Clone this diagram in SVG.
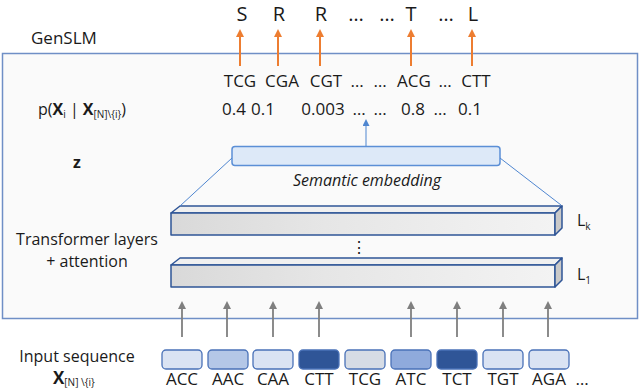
<svg xmlns="http://www.w3.org/2000/svg" width="640" height="390" viewBox="0 0 640 390">
<style>
text{font-family:"Open Sans","Noto Sans","Liberation Sans",sans-serif;fill:#1a1a1a}
.t16{font-size:16px}
.t17{font-size:17px}
.big{font-size:20px}
.sub{font-size:10px}
.b{font-weight:bold}
.mid{text-anchor:middle}
.lay{stroke:#2f5597;stroke-width:1.5;stroke-linejoin:round}
.tok{stroke:#4a72b8;stroke-width:1.3}
.orange{stroke:#ed7d31;stroke-width:2;fill:none}
.gray{stroke:#7f7f7f;stroke-width:1.8;fill:none}
.blue{stroke:#4f86d0;stroke-width:1;fill:none}
</style>
<defs>
<linearGradient id="front" x1="0" y1="0" x2="1" y2="0">
<stop offset="0" stop-color="#d9d9d9"/>
<stop offset="0.4" stop-color="#e6e6e6"/>
<stop offset="1" stop-color="#f3f3f3"/>
</linearGradient>
<marker id="ao" markerWidth="8" markerHeight="8" refX="6" refY="4" orient="auto" markerUnits="userSpaceOnUse">
<path d="M0,0 L8,4 L0,8 z" fill="#ed7d31"/>
</marker>
<marker id="ag" markerWidth="8" markerHeight="8" refX="6" refY="4" orient="auto" markerUnits="userSpaceOnUse">
<path d="M0,0 L8,4 L0,8 z" fill="#7f7f7f"/>
</marker>
<marker id="ab" markerWidth="7" markerHeight="7" refX="5" refY="3.5" orient="auto" markerUnits="userSpaceOnUse">
<path d="M0,0 L7,3.5 L0,7 z" fill="#4f86d0"/>
</marker>
</defs>

<g id="genslm-box">
<rect x="2.5" y="53.5" width="635" height="265" fill="#fafafa" stroke="#6f8fc6" stroke-width="1.5"/>
<text x="31" y="44" class="t17">GenSLM</text>
</g>

<g id="outputs">
<text x="242" y="21" class="big mid">S</text>
<text x="279" y="21" class="big mid">R</text>
<text x="321" y="21" class="big mid">R</text>
<text x="356" y="21" class="big mid">…</text>
<text x="387" y="21" class="big mid">…</text>
<text x="411" y="21" class="big mid">T</text>
<text x="446" y="21" class="big mid">…</text>
<text x="473" y="21" class="big mid">L</text>
</g>

<g id="codons">
<text x="240" y="87" class="t17 mid">TCG</text>
<text x="282" y="87" class="t17 mid">CGA</text>
<text x="326" y="87" class="t17 mid">CGT</text>
<text x="357" y="87" class="t17 mid">…</text>
<text x="380" y="87" class="t17 mid">…</text>
<text x="414" y="87" class="t17 mid">ACG</text>
<text x="445" y="87" class="t17 mid">…</text>
<text x="476" y="87" class="t17 mid">CTT</text>
</g>

<g id="probs">
<text x="234" y="115" class="t17 mid">0.4</text>
<text x="263" y="115" class="t17 mid">0.1</text>
<text x="323" y="115" class="t17 mid">0.003</text>
<text x="359" y="115" class="t17 mid">…</text>
<text x="380" y="115" class="t17 mid">…</text>
<text x="413" y="115" class="t17 mid">0.8</text>
<text x="440" y="115" class="t17 mid">…</text>
<text x="470" y="115" class="t17 mid">0.1</text>
</g>

<g id="formula">
<text x="38" y="115" class="t16">p(<tspan class="b">X</tspan><tspan class="sub" dy="3">i</tspan><tspan dy="-3"> | </tspan><tspan class="b">X</tspan><tspan class="sub" dy="3">[N]\{i}</tspan><tspan dy="-3">)</tspan></text>
</g>

<g id="z-label">
<text x="77" y="168" class="t16 b mid">z</text>
</g>

<g id="semantic-embedding">
<rect x="232" y="146.5" width="268" height="19" rx="3" fill="#dde9f8" stroke="#5b8fd6" stroke-width="1.5"/>
<text x="367" y="186" class="t16 mid" font-style="italic">Semantic embedding</text>
</g>

<g id="layer-k">
<polygon class="lay" points="171,213 180,206 562,206 555,213" fill="#f0f0f0"/>
<rect class="lay" x="171" y="213" width="384" height="22" fill="url(#front)"/>
<polygon class="lay" points="555,213 562,206 562,228 555,235" fill="#c9c9c9"/>
<text x="577" y="226" class="t16">L<tspan class="sub" dy="4">k</tspan></text>
</g>

<g id="layer-1">
<polygon class="lay" points="171,265 180,258 562,258 555,265" fill="#f0f0f0"/>
<rect class="lay" x="171" y="265" width="384" height="22" fill="url(#front)"/>
<polygon class="lay" points="555,265 562,258 562,280 555,287" fill="#c9c9c9"/>
<text x="577" y="280" class="t16">L<tspan class="sub" dy="4">1</tspan></text>
</g>

<g id="transformer-label">
<text x="87" y="245" class="t16 mid">Transformer layers</text>
<text x="87" y="267" class="t16 mid">+ attention</text>
<text x="359" y="253" class="t16 mid">⋮</text>
</g>

<g id="input-label">
<text x="77" y="362" class="t16 mid">Input sequence</text>
<text x="53" y="384" class="t17"><tspan class="b">X</tspan><tspan class="sub" dy="2">[N] \{i}</tspan></text>
</g>

<g id="tokens">
<rect class="tok" x="162" y="350" width="40" height="19" rx="4" fill="#dae3f3"/>
<rect class="tok" x="208" y="350" width="40" height="19" rx="4" fill="#b4c7e7"/>
<rect class="tok" x="253" y="350" width="40" height="19" rx="4" fill="#dae3f3"/>
<rect class="tok" x="299" y="350" width="40" height="19" rx="4" fill="#2f5597"/>
<rect class="tok" x="345" y="350" width="40" height="19" rx="4" fill="#d6dce5"/>
<rect class="tok" x="391" y="350" width="40" height="19" rx="4" fill="#8faadc"/>
<rect class="tok" x="437" y="350" width="40" height="19" rx="4" fill="#2f5597"/>
<rect class="tok" x="483" y="350" width="40" height="19" rx="4" fill="#dae3f3"/>
<rect class="tok" x="529" y="350" width="40" height="19" rx="4" fill="#dae3f3"/>
<text x="182" y="385" class="t17 mid">ACC</text>
<text x="228" y="385" class="t17 mid">AAC</text>
<text x="273" y="385" class="t17 mid">CAA</text>
<text x="319" y="385" class="t17 mid">CTT</text>
<text x="365" y="385" class="t17 mid">TCG</text>
<text x="411" y="385" class="t17 mid">ATC</text>
<text x="457" y="385" class="t17 mid">TCT</text>
<text x="503" y="385" class="t17 mid">TGT</text>
<text x="549" y="385" class="t17 mid">AGA</text>
<text x="582" y="385" class="t17 mid">…</text>
</g>

<g id="connectors">
<line class="orange" x1="240" y1="66" x2="240" y2="31" marker-end="url(#ao)"/>
<line class="orange" x1="278" y1="66" x2="278" y2="31" marker-end="url(#ao)"/>
<line class="orange" x1="320" y1="66" x2="320" y2="31" marker-end="url(#ao)"/>
<line class="orange" x1="411" y1="66" x2="411" y2="31" marker-end="url(#ao)"/>
<line class="orange" x1="472" y1="66" x2="472" y2="31" marker-end="url(#ao)"/>
<line class="blue" x1="366" y1="146" x2="366" y2="121" marker-end="url(#ab)"/>
<line class="blue" x1="232" y1="158" x2="180" y2="206"/>
<line class="blue" x1="500" y1="158" x2="561" y2="205"/>
<line class="gray" x1="182" y1="337" x2="182" y2="303" marker-end="url(#ag)"/>
<line class="gray" x1="227" y1="337" x2="227" y2="303" marker-end="url(#ag)"/>
<line class="gray" x1="273" y1="337" x2="273" y2="303" marker-end="url(#ag)"/>
<line class="gray" x1="319" y1="337" x2="319" y2="303" marker-end="url(#ag)"/>
<line class="gray" x1="411" y1="337" x2="411" y2="303" marker-end="url(#ag)"/>
<line class="gray" x1="457" y1="337" x2="457" y2="303" marker-end="url(#ag)"/>
<line class="gray" x1="503" y1="337" x2="503" y2="303" marker-end="url(#ag)"/>
<line class="gray" x1="548" y1="337" x2="548" y2="303" marker-end="url(#ag)"/>
</g>
</svg>
